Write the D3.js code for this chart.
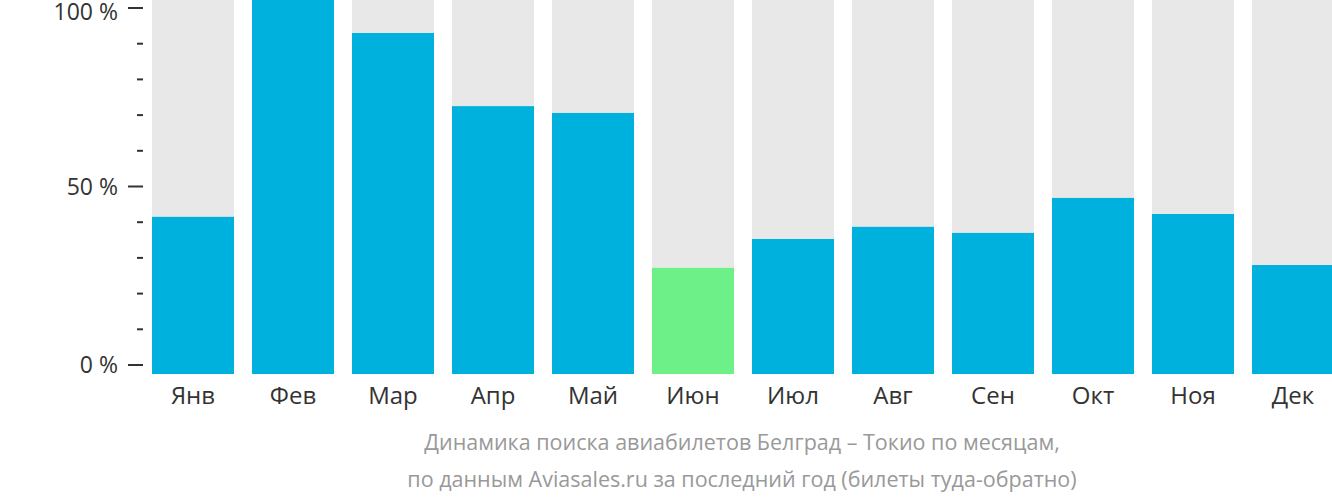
<!DOCTYPE html>
<html><head><meta charset="utf-8">
<script src="https://cdn.jsdelivr.net/npm/d3@7"></script>
<style>body{margin:0;background:#fff;font-family:"Open Sans",sans-serif}</style>
</head><body><svg id="c" width="1332" height="502"></svg>
<script>
const months = ["Янв","Фев","Мар","Апр","Май","Июн","Июл","Авг","Сен","Окт","Ноя","Дек"];
const values = [41.5,103,93,72.5,70.6,27.2,35.3,38.7,37,46.8,42.3,28];
const lowest = "Июн";
const yTicks = [0,10,20,30,40,50,60,70,80,90,100];

const svg = d3.select("#c");
const x = d3.scaleBand().domain(months).range([152,1334]).paddingInner(0.18).paddingOuter(0);
const y = d3.scaleLinear().domain([0,100]).range([365,8]);
const base = 374;

svg.selectAll(".bg").data(months).join("rect")
  .attr("x", d => x(d)).attr("width", x.bandwidth()).attr("y", 0).attr("height", base)
  .attr("fill", "#e8e8e8");
svg.selectAll(".bar").data(values).join("rect")
  .attr("x", (d,i) => x(months[i])).attr("width", x.bandwidth())
  .attr("y", d => Math.max(0, y(d))).attr("height", d => base - Math.max(0, y(d)))
  .attr("fill", (d,i) => months[i] === lowest ? "#6cf087" : "#00b0dd");

const ax = svg.append("g");
ax.selectAll("line").data(yTicks).join("line")
  .attr("x1", d => d % 50 === 0 ? 128 : 137).attr("x2", 143)
  .attr("y1", d => y(d)).attr("y2", d => y(d)).attr("stroke", "#333").attr("stroke-width", 2);
ax.selectAll("text").data(yTicks.filter(d => d % 50 === 0)).join("text")
  .attr("x", 118).attr("y", d => Math.max(y(d), 12)).attr("dy", "0.35em").attr("text-anchor", "end")
  .attr("font-size", 23).attr("fill", "#333").text(d => d + " %");

svg.selectAll(".ml").data(months).join("text")
  .attr("x", d => x(d)+x.bandwidth()/2).attr("y", 404).attr("text-anchor", "middle")
  .attr("font-size", 24).attr("fill", "#333").text(d => d);

const cap = ["Динамика поиска авиабилетов Белград – Токио по месяцам,","по данным Aviasales.ru за последний год (билеты туда-обратно)"];
svg.selectAll(".cap").data(cap).join("text")
  .attr("x", 742).attr("y", (d,i) => 450 + i*37).attr("text-anchor", "middle")
  .attr("font-size", 21.5).attr("fill", "#999").text(d => d);
</script></body></html>
